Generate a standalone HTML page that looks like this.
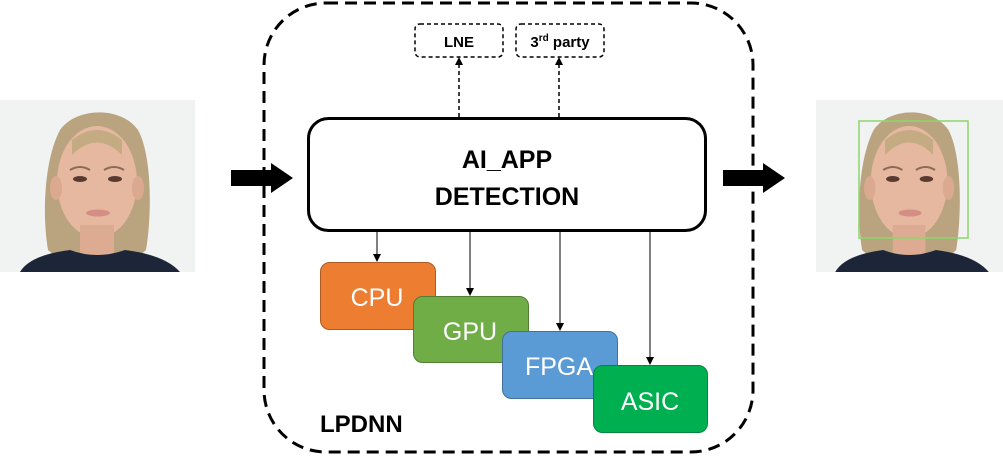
<!DOCTYPE html>
<html><head><meta charset="utf-8"><style>
html,body{margin:0;padding:0;background:#fff;}
svg{display:block;font-family:"Liberation Sans",sans-serif;}
</style></head><body>
<svg width="1003" height="462" viewBox="0 0 1003 462" xmlns="http://www.w3.org/2000/svg">
<defs>
<g id="face">
  <rect x="0" y="0" width="195" height="172" fill="#f1f3f3"/>
  <path d="M48,150 C42,115 44,60 60,30 C75,8 120,5 138,30 C152,55 152,115 146,150 L135,160 L60,160 Z" fill="#b9a47f"/>
  <ellipse cx="97" cy="82" rx="40" ry="56" fill="#e6b8a0"/>
  <ellipse cx="56" cy="88" rx="6" ry="12" fill="#dba98f"/>
  <ellipse cx="138" cy="88" rx="6" ry="12" fill="#dba98f"/>
  <rect x="80" y="125" width="34" height="30" fill="#dcab92"/>
  <path d="M72,55 Q97,30 122,55 L122,40 Q97,20 72,40 Z" fill="#c4ab84"/>
  <ellipse cx="80" cy="79" rx="7" ry="3" fill="#5a3a30"/>
  <ellipse cx="115" cy="79" rx="7" ry="3" fill="#5a3a30"/>
  <path d="M70,70 Q80,64 90,70" stroke="#8d6a55" stroke-width="2" fill="none"/>
  <path d="M104,70 Q114,64 124,70" stroke="#8d6a55" stroke-width="2" fill="none"/>
  <ellipse cx="98" cy="113" rx="12" ry="3.5" fill="#d58e86"/>
  <path d="M20,172 Q30,155 70,150 Q97,160 125,150 Q165,155 180,172 Z" fill="#1d2538"/>
</g>
</defs>
<use href="#face" x="0" y="100"/>
<g transform="translate(816,100) scale(0.96,1)"><use href="#face"/></g>
<rect x="859" y="121" width="109" height="117" fill="none" stroke="#8dd66a" stroke-width="1.5"/>

<polygon points="231,170 271,170 271,163 293,178 271,193 271,186 231,186" fill="#000"/>
<polygon points="723,170 763,170 763,163 785,178 763,193 763,186 723,186" fill="#000"/>

<rect x="264" y="3" width="489" height="449" rx="62" ry="62" fill="none" stroke="#000" stroke-width="3" stroke-dasharray="12,7"/>

<rect x="415" y="24" width="88" height="33" rx="5" fill="#fff" stroke="#000" stroke-width="1.5" stroke-dasharray="4,3"/>
<text x="459" y="47" text-anchor="middle" font-size="15" font-weight="bold">LNE</text>
<rect x="516" y="24" width="88" height="33" rx="5" fill="#fff" stroke="#000" stroke-width="1.5" stroke-dasharray="4,3"/>
<text x="560" y="47" text-anchor="middle" font-size="15" font-weight="bold">3<tspan font-size="10" dy="-6">rd</tspan><tspan dy="6"> party</tspan></text>
<line x1="459" y1="117" x2="459" y2="64" stroke="#000" stroke-width="1.5" stroke-dasharray="4,3"/>
<polygon points="459,57 455,65 463,65" fill="#000"/>
<line x1="559" y1="117" x2="559" y2="64" stroke="#000" stroke-width="1.5" stroke-dasharray="4,3"/>
<polygon points="559,57 555,65 563,65" fill="#000"/>

<rect x="308.5" y="118.5" width="397" height="112" rx="20" fill="#fff" stroke="#000" stroke-width="3"/>
<text x="507" y="168" text-anchor="middle" font-size="25" font-weight="bold">AI_APP</text>
<text x="507" y="205" text-anchor="middle" font-size="25" font-weight="bold">DETECTION</text>

<g stroke="#000" stroke-width="1">
<line x1="377" y1="232" x2="377" y2="256"/>
<line x1="470" y1="232" x2="470" y2="290"/>
<line x1="560" y1="232" x2="560" y2="325"/>
<line x1="650" y1="232" x2="650" y2="359"/>
</g>
<polygon points="377,262 373,254 381,254" fill="#000"/>
<polygon points="470,296 466,288 474,288" fill="#000"/>
<polygon points="560,331 556,323 564,323" fill="#000"/>
<polygon points="650,365 646,357 654,357" fill="#000"/>

<rect x="320.5" y="262.5" width="115" height="67" rx="9" fill="#ed7d31" stroke="#ae5a21"/>
<text x="377" y="306" text-anchor="middle" font-size="25" fill="#fff">CPU</text>
<rect x="413.5" y="296.5" width="115" height="66" rx="9" fill="#70ad47" stroke="#507e32"/>
<text x="470" y="340" text-anchor="middle" font-size="25" fill="#fff">GPU</text>
<rect x="502.5" y="331.5" width="115" height="67" rx="9" fill="#5b9bd5" stroke="#41719c"/>
<text x="559" y="375" text-anchor="middle" font-size="25" fill="#fff">FPGA</text>
<rect x="593.5" y="365.5" width="114" height="67" rx="9" fill="#00b050" stroke="#00873d"/>
<text x="650" y="410" text-anchor="middle" font-size="25" fill="#fff">ASIC</text>

<text x="320" y="432" font-size="24" font-weight="bold">LPDNN</text>
</svg>
</body></html>
